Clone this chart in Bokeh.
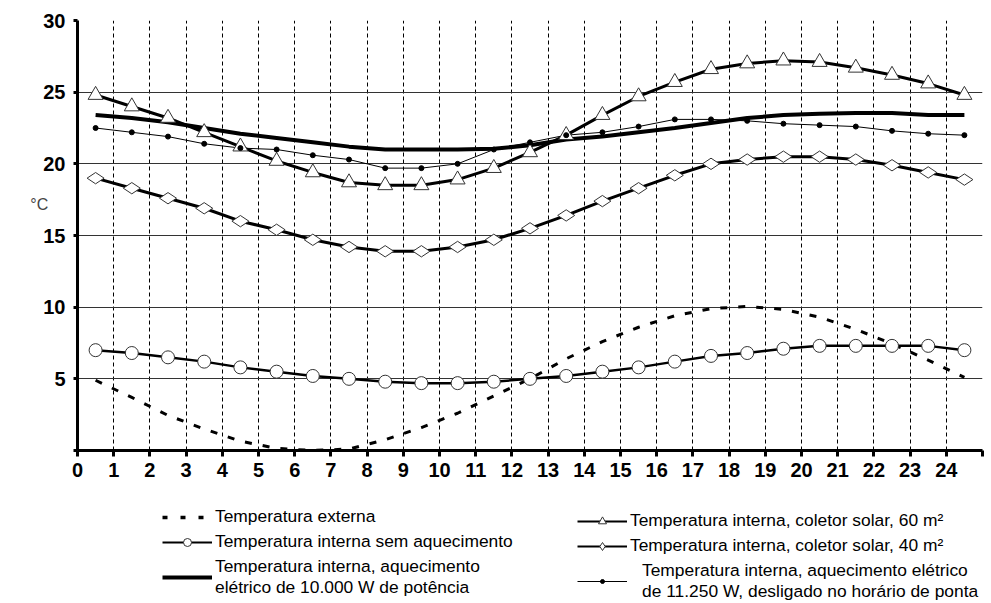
import math
from bokeh.plotting import figure
from bokeh.layouts import column
from bokeh.models import ColumnDataSource, FixedTicker, Legend, LegendItem, Range1d
from bokeh.embed import file_html
from bokeh.resources import INLINE

# ---- data -------------------------------------------------------------
hours = list(range(25))                      # category labels 0..24
tick_labels = [str(h) for h in range(25)]

t_externa = [4.9, 3.7, 2.45, 1.5, 0.65, 0.15, 0.0, 0.1, 0.75, 1.6, 2.6, 3.8, 5.0,
             6.4, 7.6, 8.6, 9.4, 9.9, 10.05, 9.85, 9.3, 8.45, 7.45, 6.3, 5.1]
t_sem_aquec = [7.0, 6.8, 6.5, 6.2, 5.8, 5.5, 5.2, 5.0, 4.8, 4.7, 4.7, 4.8, 5.0,
               5.2, 5.5, 5.8, 6.2, 6.6, 6.8, 7.1, 7.3, 7.3, 7.3, 7.3, 7.0]
t_elet_10000 = [23.4, 23.2, 22.9, 22.5, 22.1, 21.8, 21.5, 21.2, 21.0, 21.0, 21.0, 21.05, 21.3,
                21.7, 21.9, 22.2, 22.5, 22.85, 23.2, 23.4, 23.5, 23.55, 23.55, 23.4, 23.4]
t_solar_60 = [24.8, 24.0, 23.2, 22.2, 21.2, 20.2, 19.4, 18.7, 18.5, 18.5, 18.9, 19.7, 20.8,
              22.0, 23.4, 24.7, 25.7, 26.6, 27.0, 27.2, 27.1, 26.7, 26.2, 25.6, 24.8]
t_solar_40 = [19.0, 18.3, 17.6, 16.9, 16.0, 15.4, 14.7, 14.2, 13.9, 13.9, 14.2, 14.7, 15.5,
              16.4, 17.4, 18.3, 19.2, 20.0, 20.3, 20.5, 20.5, 20.3, 19.9, 19.4, 18.9]
t_elet_11250 = [22.5, 22.2, 21.9, 21.4, 21.1, 21.0, 20.6, 20.3, 19.7, 19.7, 20.0, 21.0, 21.5,
                22.0, 22.2, 22.6, 23.1, 23.1, 23.0, 22.8, 22.7, 22.6, 22.3, 22.1, 22.0]

labels = [
    "Temperatura externa",
    "Temperatura interna sem aquecimento",
    "Temperatura interna, aquecimento\nelétrico de 10.000 W de potência",
    "Temperatura interna, coletor solar, 60 m²",
    "Temperatura interna, coletor solar, 40 m²",
    "Temperatura interna, aquecimento elétrico\nde 11.250 W, desligado no horário de ponta",
]

# category centres (data drawn between the hour boundaries, as in the original)
x = [h + 0.5 for h in hours]
src = ColumnDataSource(dict(x=x, ext=t_externa, sem=t_sem_aquec, e10=t_elet_10000,
                            s60=t_solar_60, s40=t_solar_40, e11=t_elet_11250))

FONT = "Liberation Sans"

p = figure(width=991, height=500, output_backend="svg", toolbar_location=None,
           x_range=Range1d(0, 25), y_range=Range1d(0, 30),
           min_border_left=77, min_border_right=9, min_border_top=20, min_border_bottom=50)
p.outline_line_color = None
p.background_fill_color = "white"

# grids
p.xgrid.ticker = FixedTicker(ticks=list(range(26)))
p.xgrid.grid_line_color = "black"
p.xgrid.grid_line_dash = "4 3"
p.xgrid.grid_line_width = 1
p.ygrid.ticker = FixedTicker(ticks=[5, 10, 15, 20, 25, 30])
p.ygrid.grid_line_color = "#333333"
p.ygrid.grid_line_width = 1

# axes
p.xaxis.ticker = FixedTicker(ticks=list(range(26)))
p.xaxis.major_label_overrides = {i: tick_labels[i] for i in range(25)} | {25: ""}
p.yaxis.ticker = FixedTicker(ticks=[0, 5, 10, 15, 20, 25, 30])
p.yaxis.major_label_overrides = {0: ""}
for ax in (p.xaxis, p.yaxis):
    ax.axis_line_width = 3
    ax.axis_line_color = "black"
    ax.major_tick_line_width = 3
    ax.major_tick_line_color = "black"
    ax.major_tick_in = 0
    ax.minor_tick_line_color = None
    ax.major_label_text_font = FONT
    ax.major_label_text_font_style = "bold"
    ax.major_label_text_font_size = "20px"
    ax.major_label_text_color = "black"
p.xaxis.major_tick_out = 6
p.yaxis.major_tick_out = 4
p.xaxis.major_label_standoff = 6
p.yaxis.major_label_standoff = 8
p.yaxis.axis_label = "°C\n \n \n"
p.yaxis.axis_label_orientation = "horizontal"
p.yaxis.axis_label_text_font = FONT
p.yaxis.axis_label_text_font_style = "normal"
p.yaxis.axis_label_text_font_size = "16px"
p.yaxis.axis_label_standoff = -8

# series
p.line("x", "ext", source=src, line_color="black", line_width=3, line_dash="7 11")
p.line("x", "sem", source=src, line_color="black", line_width=2.5)
p.line("x", "e10", source=src, line_color="black", line_width=4)
p.line("x", "s60", source=src, line_color="black", line_width=3)
p.line("x", "s40", source=src, line_color="black", line_width=3)
p.line("x", "e11", source=src, line_color="black", line_width=1)

p.scatter("x", "sem", source=src, marker="circle", size=13, fill_color="white",
          line_color="#333333", line_width=1)
p.scatter("x", "s60", source=src, marker="triangle", size=15, fill_color="white",
          line_color="#333333", line_width=1)
p.scatter("x", "s40", source=src, marker="diamond", size=17, angle=math.pi / 2,
          fill_color="white", line_color="#333333", line_width=1)
p.scatter("x", "e11", source=src, marker="circle", size=5, fill_color="black",
          line_color="black")

# ---- legend panel (separate figure below the chart) -------------------
q = figure(width=991, height=103, output_backend="svg", toolbar_location=None,
           x_axis_location=None, y_axis_location=None,
           x_range=Range1d(0, 1), y_range=Range1d(0, 1),
           min_border_left=0, min_border_right=0, min_border_top=0, min_border_bottom=0)
q.grid.visible = False
q.outline_line_color = None

# legend-only renderers: one undefined (NaN) point, so nothing is drawn in the frame
nan_src = ColumnDataSource(dict(x=[float("nan")], y=[float("nan")]))
def leg_line(**kw):
    return q.line("x", "y", source=nan_src, line_color="black", **kw)
def leg_mark(**kw):
    return q.scatter("x", "y", source=nan_src, **kw)

li_ext = [leg_line(line_width=3.5, line_dash="5 13")]
li_sem = [leg_line(line_width=2), leg_mark(marker="circle", fill_color="white", line_color="#333333")]
li_e10 = [leg_line(line_width=4)]
li_s60 = [leg_line(line_width=2), leg_mark(marker="triangle", fill_color="white", line_color="#333333")]
li_s40 = [leg_line(line_width=2), leg_mark(marker="diamond", angle=math.pi / 2, fill_color="white", line_color="#333333")]
li_e11 = [leg_line(line_width=1), leg_mark(marker="circle", fill_color="black", line_color="black")]

def make_legend(items, loc, standoff=3, glyph_h=20):
    lg = Legend(items=items, location=loc, orientation="vertical",
                label_text_font=FONT, label_text_font_size="17.4px", label_text_color="black",
                glyph_width=50, glyph_height=glyph_h, label_height=20, label_standoff=standoff,
                spacing=4, padding=0, margin=0, border_line_color=None,
                background_fill_alpha=0)
    q.add_layout(lg, "center")
    return lg

# frame of q is aligned with the chart frame (left edge at x=77)
make_legend([LegendItem(label=labels[0], renderers=li_ext),
             LegendItem(label=labels[1], renderers=li_sem),
             LegendItem(label=labels[2], renderers=li_e10)], (85, 5))
make_legend([LegendItem(label=labels[3], renderers=li_s60),
             LegendItem(label=labels[4], renderers=li_s40)], (500, 47))
make_legend([LegendItem(label=labels[5], renderers=li_e11)], (500, 1), standoff=15, glyph_h=10)

layout = column(p, q, spacing=0)
open("out.html", "w").write(file_html(layout, INLINE))
